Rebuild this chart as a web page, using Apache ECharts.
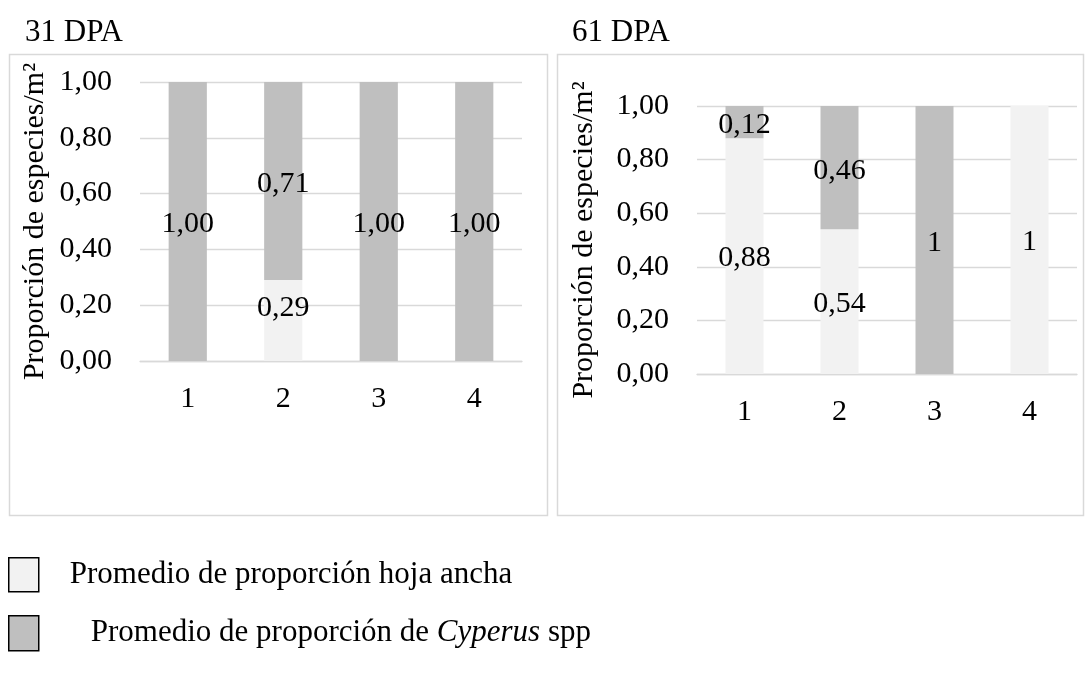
<!DOCTYPE html>
<html>
<head>
<meta charset="utf-8">
<script src="https://cdn.jsdelivr.net/npm/echarts@6/dist/echarts.min.js"></script>
<style>
html,body{margin:0;padding:0;background:#fff;}
#c{width:1089px;height:677px;}
</style>
</head>
<body>
<div id="c"></div>
<script>
const categories = ['1', '2', '3', '4'];
const panelTitles = ['31 DPA', '61 DPA'];
const yTicks = [0, 0.2, 0.4, 0.6, 0.8, 1.0];
const seriesNames = ['Promedio de proporción hoja ancha', 'Promedio de proporción de Cyperus spp'];
// 31 DPA
const hoja31 = [0, 0.29, 0, 0];
const cyperus31 = [1.00, 0.71, 1.00, 1.00];
// 61 DPA
const hoja61 = [0.88, 0.54, 0, 1];
const cyperus61 = [0.12, 0.46, 1, 0];

const FONT = '"Liberation Serif", "Times New Roman", serif';
const LIGHT = '#F2F2F2';
const DARK = '#BFBFBF';
const GRIDC = '#D9D9D9';

function fmt2(v) { return v.toFixed(2).replace('.', ','); }
function fmtPlain(v) { return Number.isInteger(v) ? String(v) : fmt2(v); }

const chart = echarts.init(document.getElementById('c'), null, {renderer: 'canvas'});

const grids = [
  {left: 140, top: 82, width: 382, height: 279},
  {left: 697, top: 106, width: 380, height: 268}
];
const nameGaps = [90, 98];

function yAxis(i) {
  return {
    type: 'value', gridIndex: i, min: yTicks[0], max: yTicks[yTicks.length - 1], interval: 0.2,
    name: 'Proporción de especies/m²', nameLocation: 'middle', nameGap: nameGaps[i],
    nameTextStyle: {fontFamily: FONT, fontSize: 30, color: '#000'},
    axisLine: {show: false}, axisTick: {show: false},
    axisLabel: {fontFamily: FONT, fontSize: 30, color: '#000', margin: 28, formatter: fmt2},
    splitLine: {lineStyle: {color: GRIDC, width: 1.3}}
  };
}
function xAxis(i) {
  return {
    type: 'category', gridIndex: i, data: categories,
    axisLine: {lineStyle: {color: GRIDC, width: 1.3}}, axisTick: {show: false},
    axisLabel: {fontFamily: FONT, fontSize: 30, color: '#000', margin: 23}
  };
}
function barSeries(name, data, color, i, fmt, offset) {
  return {
    type: 'bar', name: name, xAxisIndex: i, yAxisIndex: i, stack: 'p' + i,
    data: data, barWidth: '40%', itemStyle: {color: color},
    label: {
      show: true, position: 'inside', offset: offset || [0, 0], color: '#000', fontFamily: FONT, fontSize: 30,
      formatter: p => (p.value > 0 ? fmt(p.value) : '')
    },
    emphasis: {disabled: true}, animation: false
  };
}

const option = {
  animation: false,
  backgroundColor: '#fff',
  title: [
    {text: panelTitles[0], left: 20, top: 12, textStyle: {fontFamily: FONT, fontSize: 31, fontWeight: 'normal', color: '#000'}},
    {text: panelTitles[1], left: 567, top: 12, textStyle: {fontFamily: FONT, fontSize: 31, fontWeight: 'normal', color: '#000'}}
  ],
  graphic: [
    {type: 'rect', shape: {x: 9.5, y: 54.5, width: 538, height: 461}, style: {fill: 'none', stroke: GRIDC, lineWidth: 1.5}, silent: true},
    {type: 'rect', shape: {x: 557.5, y: 54.5, width: 526, height: 461}, style: {fill: 'none', stroke: GRIDC, lineWidth: 1.5}, silent: true}
  ],
  legend: [
    {
      data: [seriesNames[0]], left: 3, top: 552, padding: 5, icon: 'rect', itemWidth: 30, itemHeight: 34,
      itemStyle: {borderColor: '#000', borderWidth: 1.5}, selectedMode: false,
      textStyle: {fontFamily: FONT, fontSize: 31, color: '#000', padding: [0, 0, 0, 26]}
    },
    {
      data: [seriesNames[1]], left: 3, top: 610, padding: 5, icon: 'rect', itemWidth: 30, itemHeight: 35,
      itemStyle: {borderColor: '#000', borderWidth: 1.5}, selectedMode: false,
      formatter: () => '{a|Promedio de proporción de }{i|Cyperus}{a| spp}',
      textStyle: {
        fontFamily: FONT, fontSize: 31, color: '#000', padding: [0, 0, 0, 47],
        rich: {
          a: {fontFamily: FONT, fontSize: 31, color: '#000'},
          i: {fontFamily: FONT, fontSize: 31, color: '#000', fontStyle: 'italic'}
        }
      }
    }
  ],
  grid: grids,
  xAxis: [xAxis(0), xAxis(1)],
  yAxis: [yAxis(0), yAxis(1)],
  series: [
    barSeries(seriesNames[0], hoja31, LIGHT, 0, fmt2, [0, -12]),
    barSeries(seriesNames[1], cyperus31, DARK, 0, fmt2, [0, 3]),
    barSeries(seriesNames[0], hoja61, LIGHT, 1, fmtPlain, [0, 2]),
    barSeries(seriesNames[1], cyperus61, DARK, 1, fmtPlain, [0, 3])
  ]
};
chart.setOption(option);
</script>
</body>
</html>
